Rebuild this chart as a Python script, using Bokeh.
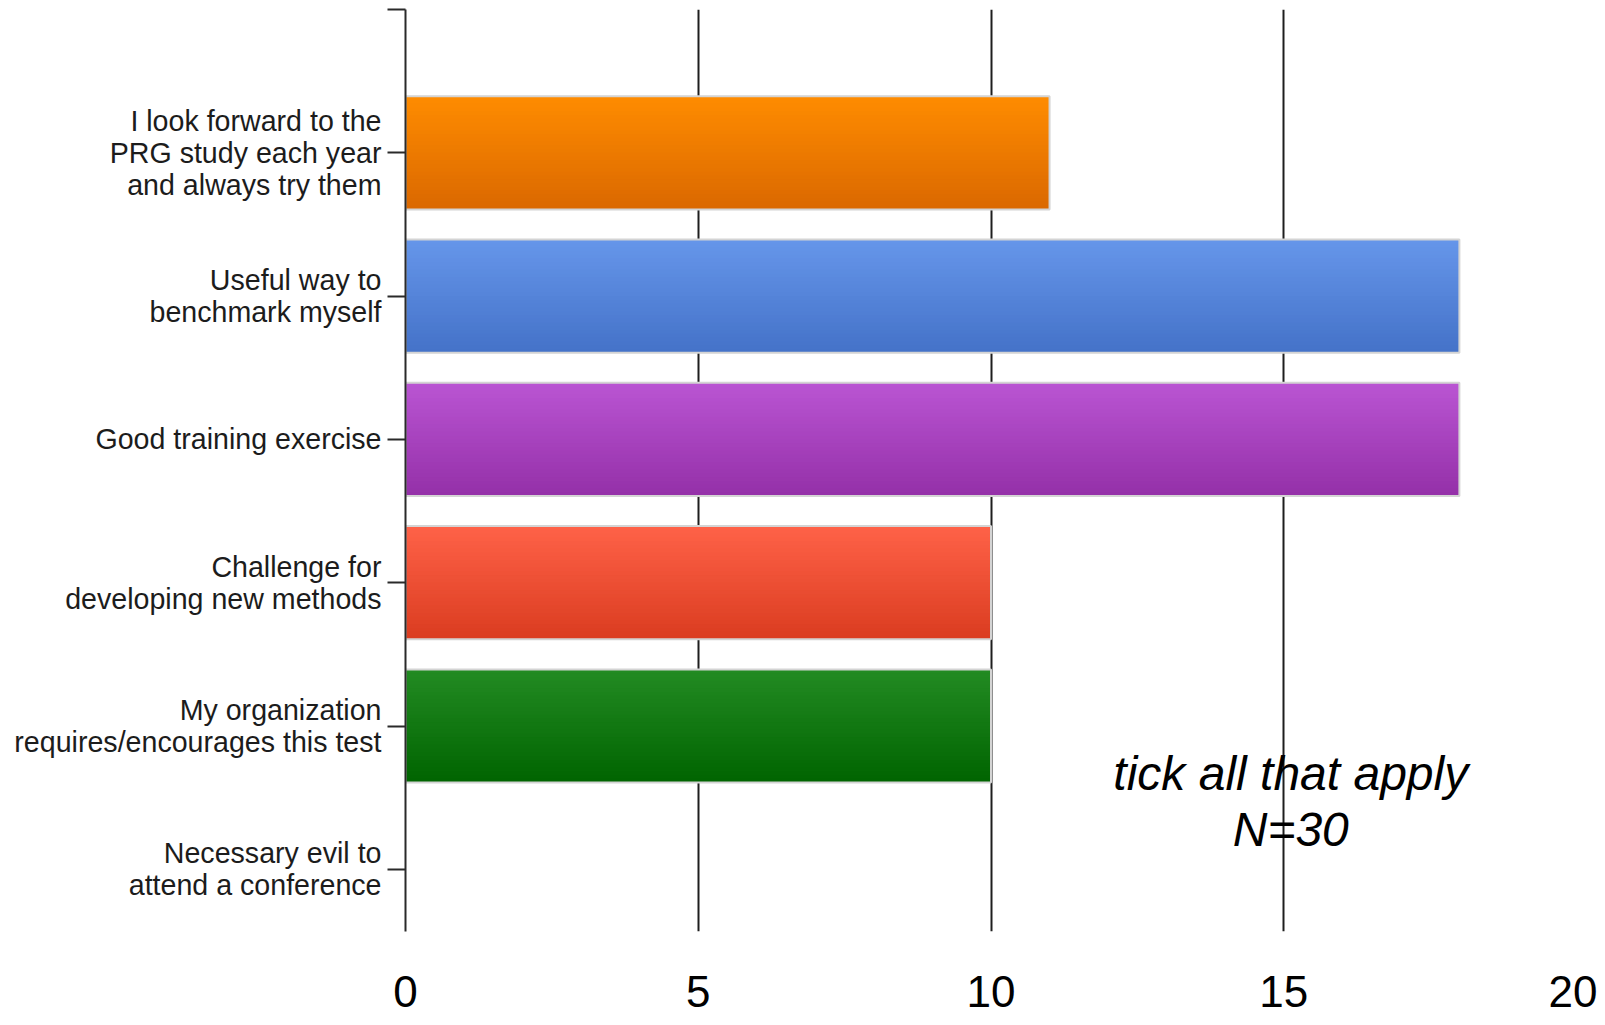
from bokeh.plotting import figure
from bokeh.models import Range1d, FixedTicker, ColumnDataSource, Label
from bokeh.embed import file_html
from bokeh.resources import INLINE

# ---- data ----
categories = [
    "I look forward to the\nPRG study each year\nand always try them",
    "Useful way to\nbenchmark myself",
    "Good training exercise",
    "Challenge for\ndeveloping new methods",
    "My organization\nrequires/encourages this test",
    "Necessary evil to\nattend a conference",
]
counts = [11, 18, 18, 10, 10, 0]
top_colors = ["#FF8C00", "#6696EA", "#BA55D3", "#FF6248", "#238B23", "#888888"]
bottom_colors = ["#DA6800", "#4472C8", "#9430A8", "#DA3C20", "#006400", "#888888"]
x_ticks = [0, 5, 10, 15, 20]
note_lines = ["tick all that apply", "N=30"]

n = len(categories)
ypos = [n - i for i in range(n)]  # top category highest
BAR_H = 0.79

p = figure(
    output_backend="svg", toolbar_location=None,
    width=1597, height=1017,
    min_border_left=405, min_border_right=21, min_border_top=9, min_border_bottom=86,
    x_range=Range1d(0, 20), y_range=Range1d(0.566, 7.0),
    outline_line_color=None, background_fill_color="white", border_fill_color="white",
)

def hx(c):
    c = c.lstrip("#")
    return [int(c[i:i + 2], 16) for i in (0, 2, 4)]

def mix(a, b, f):
    return "#%02x%02x%02x" % tuple(int(round(a[j] + (b[j] - a[j]) * f)) for j in range(3))

shown = [i for i in range(n) if counts[i] > 0]

# solid base bar (mid colour) underneath the gradient
base = ColumnDataSource(dict(
    y=[ypos[i] for i in shown], right=[counts[i] for i in shown],
    color=[mix(hx(top_colors[i]), hx(bottom_colors[i]), 0.5) for i in shown]))
p.hbar(y="y", right="right", left=0, height=BAR_H, color="color", source=base, line_color=None)

# vertical gradient built from overlapping thin strips, clipped to the bar
NS = 30
hs = BAR_H / NS
rows = dict(top=[], bottom=[], right=[], color=[])
for k in range(NS):
    f = (k + 0.5) / NS
    for i in shown:
        bar_top = ypos[i] + BAR_H / 2
        bar_bot = ypos[i] - BAR_H / 2
        rows["top"].append(bar_top - k * hs)
        rows["bottom"].append(max(bar_top - (k + 2) * hs, bar_bot))
        rows["right"].append(counts[i])
        rows["color"].append(mix(hx(top_colors[i]), hx(bottom_colors[i]), f))
p.quad(left=0, right="right", top="top", bottom="bottom", color="color",
       source=ColumnDataSource(rows), line_color=None)

# light border around each bar
bsrc = ColumnDataSource(dict(y=[ypos[i] for i in shown], right=[counts[i] for i in shown]))
p.hbar(y="y", right="right", left=0, height=BAR_H, source=bsrc,
       fill_color=None, line_color="#d4d4d4", line_width=2)

# grid
p.ygrid.visible = False
p.xgrid.ticker = FixedTicker(ticks=x_ticks)
p.xgrid.grid_line_color = "#1e1e1e"
p.xgrid.grid_line_width = 2

# x axis
p.xaxis.ticker = FixedTicker(ticks=x_ticks)
p.xaxis.axis_line_color = None
p.xaxis.major_tick_line_color = None
p.xaxis.minor_tick_line_color = None
p.xaxis.major_tick_out = 0
p.xaxis.major_tick_in = 0
p.xaxis.major_label_standoff = 44
p.xaxis.major_label_text_font = "Liberation Sans"
p.xaxis.major_label_text_font_size = "44px"
p.xaxis.major_label_text_color = "#000000"

# y axis
p.yaxis.ticker = FixedTicker(ticks=ypos + [n + 1])
overrides = {ypos[i]: categories[i] for i in range(n)}
overrides[n + 1] = ""
p.yaxis.major_label_overrides = overrides
p.yaxis.axis_line_color = "#2a2a2a"
p.yaxis.axis_line_width = 2
p.yaxis.major_tick_line_color = "#2a2a2a"
p.yaxis.major_tick_line_width = 2
p.yaxis.major_tick_out = 18
p.yaxis.major_tick_in = 0
p.yaxis.minor_tick_line_color = None
p.yaxis.major_label_standoff = 6
p.yaxis.major_label_text_font = "Liberation Sans"
p.yaxis.major_label_text_font_size = "28.6px"
p.yaxis.major_label_text_line_height = 1.0
p.yaxis.major_label_text_color = "#1c1c1c"
p.yaxis.major_label_text_align = "right"

# note
for txt, yy in zip(note_lines, [1.667, 1.276]):
    p.add_layout(Label(x=15.12, y=yy, text=txt, text_align="center",
                       text_baseline="alphabetic", text_font="Liberation Sans",
                       text_font_style="italic", text_font_size="48px",
                       text_color="#000000"))

open("out.html", "w").write(file_html(p, INLINE))
